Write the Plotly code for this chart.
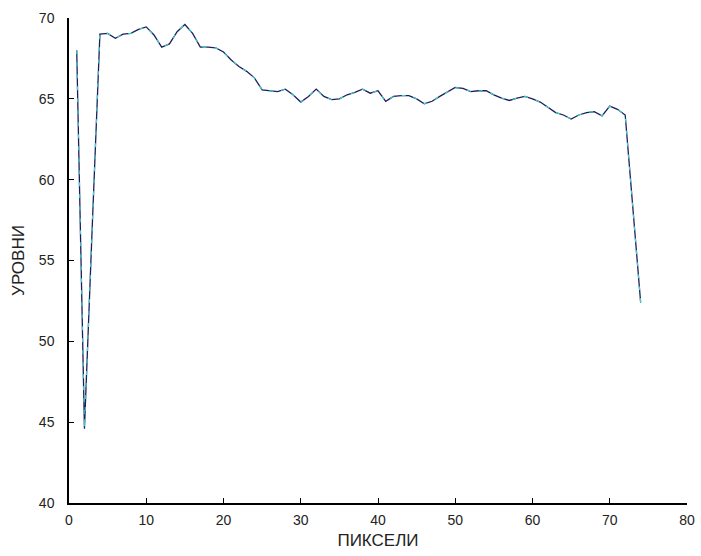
import plotly.graph_objects as go

pixels = list(range(1, 75))
levels = [68.0, 44.6, 57.0, 69.0, 69.05, 68.75, 69.0, 69.05, 69.3, 69.45,
          68.95, 68.2, 68.4, 69.15, 69.6, 69.05, 68.2, 68.2, 68.15, 67.9,
          67.4, 67.0, 66.7, 66.3, 65.55, 65.5, 65.45, 65.6, 65.25, 64.8,
          65.15, 65.6, 65.15, 64.95, 65.0, 65.25, 65.4, 65.6, 65.35, 65.5,
          64.85, 65.15, 65.2, 65.2, 65.0, 64.7, 64.85, 65.15, 65.45, 65.7,
          65.65, 65.45, 65.5, 65.5, 65.25, 65.05, 64.9, 65.05, 65.15, 65.0,
          64.8, 64.5, 64.15, 64.0, 63.75, 64.0, 64.15, 64.2, 63.95, 64.55,
          64.35, 64.0, 58.2, 52.4]

x_ticks = [0, 10, 20, 30, 40, 50, 60, 70, 80]
y_ticks = [40, 45, 50, 55, 60, 65, 70]

fig = go.Figure()
fig.add_trace(go.Scatter(x=pixels, y=levels, mode="lines",
                         line=dict(color="#1c1f5e", width=1.3),
                         showlegend=False, hoverinfo="skip"))
fig.add_trace(go.Scatter(x=pixels, y=levels, mode="lines",
                         line=dict(color="#3fd6c8", width=1.1, dash="4px,8px"),
                         showlegend=False))

font = dict(family="Liberation Sans, Arial, sans-serif", size=14, color="#222222")
fig.update_layout(
    width=701, height=556,
    margin=dict(l=69, r=14, t=18, b=53, autoexpand=False),
    paper_bgcolor="white", plot_bgcolor="white",
    font=font,
    xaxis=dict(range=[0, 80], tickvals=x_ticks, showgrid=False, zeroline=False,
               showline=True, linecolor="black", linewidth=1.5, mirror=False,
               ticks="inside", ticklen=5, tickcolor="black",
               ticklabelstandoff=3, automargin=False,
               title=dict(text="ПИКСЕЛИ", standoff=8), fixedrange=True),
    yaxis=dict(range=[40, 70], tickvals=y_ticks, showgrid=False, zeroline=False,
               showline=True, linecolor="black", linewidth=1.5, mirror=False,
               ticks="inside", ticklen=5, tickcolor="black",
               ticklabelstandoff=10, automargin=False,
               title=dict(text="УРОВНИ", standoff=10), fixedrange=True),
)
fig.write_html("out.html")
